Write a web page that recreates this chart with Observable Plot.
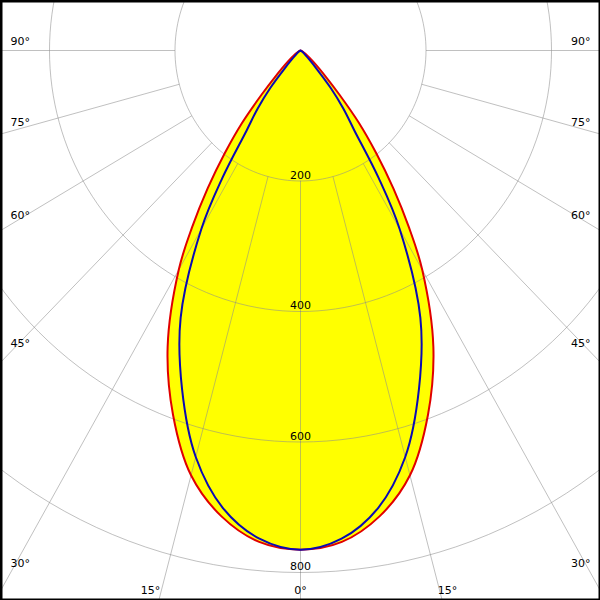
<!DOCTYPE html>
<html><head><meta charset="utf-8">
<script src="https://cdn.jsdelivr.net/npm/d3@7"></script>
<script src="https://cdn.jsdelivr.net/npm/@observablehq/plot@0.6"></script>
<style>html,body{margin:0;padding:0;background:#fff;overflow:hidden}</style>
</head><body><div id="chart"></div>
<script>
// Polar angles (degrees from nadir) and luminous intensity (cd)
const angles     = [0, 5, 10, 15, 20, 25, 30, 32.5, 35, 37.5, 40, 42.5, 45, 50, 55, 60, 70, 80, 90];
const redValues  = [765, 756, 725, 674, 594, 501, 388, 322, 258, 198, 145, 92, 58, 26, 12, 5, 2, 1, 0];
const blueValues = [765, 751, 712, 645, 552, 452, 316, 232, 150, 112, 75, 38, 20, 8, 3, 1, 0, 0, 0];
const ringValues = [200, 400, 600, 800];
const ringLabels = ["200", "400", "600", "800"];
const spokeAngles = [-90, -75, -60, -45, -30, -15, 0, 15, 30, 45, 60, 75, 90];
const sideLabelAngles = [90, 75, 60, 45, 30];
const bottomLabelAngles = [15, 0];

const W = 600, H = 600, CX = 300, CY = 50, SX = 0.6275, SY = 0.6525;
const rad = d => d * Math.PI / 180;

function curve(values) {
  const pts = [];
  for (let i = angles.length - 1; i >= 0; i--) pts.push({a: -angles[i], v: values[i]});
  for (let i = 1; i < angles.length; i++) pts.push({a: angles[i], v: values[i]});
  return pts.map(p => ({x: p.v * Math.sin(rad(p.a)), y: p.v * Math.cos(rad(p.a))}));
}
const red = curve(redValues), blue = curve(blueValues);

const rings = ringValues.flatMap(r => d3.range(0, 361, 2).map(t => ({r, x: r * Math.sin(rad(t)), y: r * Math.cos(rad(t))})));
const spokes = spokeAngles.map(a => ({x1: 200 * Math.sin(rad(a)), y1: 200 * Math.cos(rad(a)), x2: 1400 * Math.sin(rad(a)), y2: 1400 * Math.cos(rad(a))}));

const xL = (10 - CX) / SX, xR = (W - 10 - CX) / SX, yB = (590 - CY) / SY;
const leftLabels = sideLabelAngles.map(a => ({x: xL, y: a === 90 ? 0 : Math.abs(xL) / Math.tan(rad(a)), t: a + "°"}));
const rightLabels = sideLabelAngles.map(a => ({x: xR, y: a === 90 ? 0 : Math.abs(xL) / Math.tan(rad(a)), t: a + "°"}));
const bottomLeft = bottomLabelAngles.filter(a => a > 0).map(a => ({x: -yB * Math.tan(rad(a)), y: yB, t: a + "°"}));
const bottomRight = bottomLabelAngles.filter(a => a > 0).map(a => ({x: yB * Math.tan(rad(a)), y: yB, t: a + "°"}));
const bottomMid = bottomLabelAngles.filter(a => a === 0).map(a => ({x: 0, y: yB, t: a + "°"}));
const ringText = ringValues.map((r, i) => ({x: 0, y: r, t: ringLabels[i]}));

const font = {fontFamily: "DejaVu Sans, sans-serif", fontSize: 11, fill: "black"};
const gridStyle = {stroke: "#8c8c8c", strokeOpacity: 0.55, strokeWidth: 1};

const chart = Plot.plot({
  width: W, height: H, margin: 0,
  style: {background: "white", overflow: "hidden"},
  x: {domain: [-CX / SX, (W - CX) / SX], range: [0, W], axis: null},
  y: {domain: [-CY / SY, (H - CY) / SY], range: [0, H], axis: null},
  marks: [
    Plot.line(red, {x: "x", y: "y", fill: "#ffff00", stroke: "none", curve: "catmull-rom"}),
    Plot.line(rings, {x: "x", y: "y", z: "r", ...gridStyle}),
    Plot.link(spokes, {x1: "x1", y1: "y1", x2: "x2", y2: "y2", ...gridStyle}),
    Plot.line(red, {x: "x", y: "y", stroke: "#e00000", strokeWidth: 2, curve: "catmull-rom"}),
    Plot.line(blue, {x: "x", y: "y", stroke: "#0a0ab4", strokeWidth: 2, curve: "catmull-rom"}),
    Plot.text(ringText, {x: "x", y: "y", text: "t", dy: -6, textAnchor: "middle", ...font}),
    Plot.text(leftLabels, {x: "x", y: "y", text: "t", dy: -9, textAnchor: "start", ...font}),
    Plot.text(rightLabels, {x: "x", y: "y", text: "t", dy: -9, textAnchor: "end", ...font}),
    Plot.text(bottomLeft, {x: "x", y: "y", text: "t", dx: -1, textAnchor: "end", ...font}),
    Plot.text(bottomRight, {x: "x", y: "y", text: "t", dx: -2, textAnchor: "start", ...font}),
    Plot.text(bottomMid, {x: "x", y: "y", text: "t", textAnchor: "middle", ...font}),
    Plot.frame({stroke: "black", strokeWidth: 4})
  ]
});
document.getElementById("chart").append(chart);
</script>
</body></html>
